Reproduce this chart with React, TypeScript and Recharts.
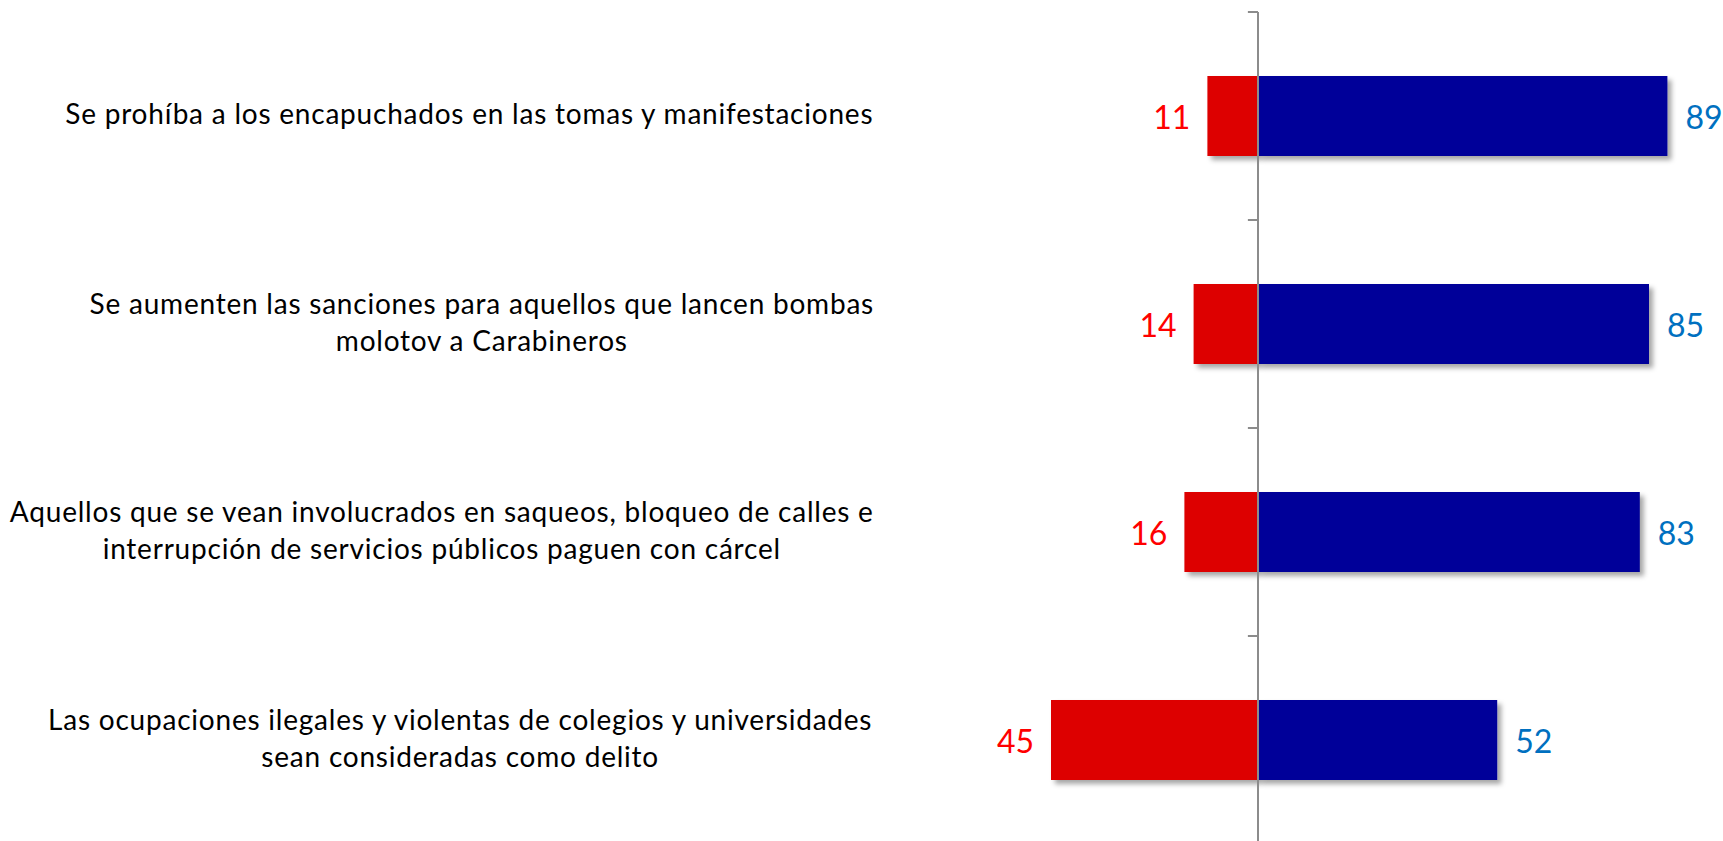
import React from "react";
import { BarChart, Bar, XAxis, YAxis, ReferenceLine, LabelList } from "recharts";

// ---- data ----
const categories: string[] = [
  "Se prohíba a los encapuchados en las tomas y manifestaciones",
  "Se aumenten las sanciones para aquellos que lancen bombas\nmolotov a Carabineros",
  "Aquellos que se vean involucrados en saqueos, bloqueo de calles e\ninterrupción de servicios públicos paguen con cárcel",
  "Las ocupaciones ilegales y violentas de colegios y universidades\nsean consideradas como delito",
];
const desacuerdo: number[] = [11, 14, 16, 45];
const deAcuerdo: number[] = [89, 85, 83, 52];

const data = categories.map((c, i) => ({
  cat: c,
  no: -desacuerdo[i],
  si: deAcuerdo[i],
}));

// ---- style ----
const FONT = "Lato, 'Open Sans', sans-serif";
const CAT_SIZE = 28;
const CAT_SPACING = 0.78;
const VAL_SIZE = 32;
const LINE_H = 37;
const RED_BAR = "#DD0000";
const BLUE_BAR = "#000099";
const RED_TXT = "#FF0000";
const BLUE_TXT = "#0070C0";
const AXIS = "#8C8C8C";

let ctx: CanvasRenderingContext2D | null = null;
const measure = (s: string) => {
  if (!ctx) {
    const c = document.createElement("canvas");
    ctx = c.getContext("2d");
  }
  if (!ctx) return s.length * CAT_SIZE * 0.5;
  ctx.font = `${CAT_SIZE}px Lato`;
  return ctx.measureText(s).width + CAT_SPACING * s.length;
};

const CatTick = (props: any) => {
  const { x, y, payload } = props;
  const lines: string[] = String(payload.value).split("\n");
  const maxW = Math.max(...lines.map(measure));
  const right = x - 106;
  const cx = Math.max(right - maxW / 2, maxW / 2 + 8);
  const startY = y - 3 - ((lines.length - 1) * LINE_H) / 2;
  return (
    <g>
      {lines.map((l, i) => (
        <text
          key={i}
          x={cx}
          y={startY + i * LINE_H}
          textAnchor="middle"
          dominantBaseline="central"
          fontFamily={FONT}
          fontSize={CAT_SIZE}
          letterSpacing={CAT_SPACING}
          fill="#000"
        >
          {l}
        </text>
      ))}
    </g>
  );
};

const ShadowRect = (props: any) => {
  const { x, y, width, height, fill } = props;
  const rx = Math.min(x, x + width);
  const w = Math.abs(width);
  return <rect x={rx} y={y} width={w} height={height} fill={fill} filter="url(#barShadow)" />;
};

const RedLabel = (props: any) => {
  const { x, y, width, height, value } = props;
  const left = Math.min(x, x + width);
  return (
    <text
      x={left - 17}
      y={y + height / 2}
      textAnchor="end"
      dominantBaseline="central"
      fontFamily={FONT}
      fontSize={VAL_SIZE}
      fill={RED_TXT}
    >
      {Math.abs(value)}
    </text>
  );
};

const BlueLabel = (props: any) => {
  const { x, y, width, height, value } = props;
  const right = Math.max(x, x + width);
  return (
    <text
      x={right + 18}
      y={y + height / 2}
      textAnchor="start"
      dominantBaseline="central"
      fontFamily={FONT}
      fontSize={VAL_SIZE}
      fill={BLUE_TXT}
    >
      {Math.abs(value)}
    </text>
  );
};

export default function App() {
  return (
    <div
      style={{
        position: "absolute",
        left: 0,
        top: 0,
        width: 1723,
        height: 841,
        overflow: "hidden",
        background: "#fff",
      }}
    >
      <svg width={0} height={0} style={{ position: "absolute" }}>
        <defs>
          <filter id="barShadow" x="-10%" y="-20%" width="130%" height="160%">
            <feDropShadow dx={4} dy={4} stdDeviation={2.5} floodColor="#000" floodOpacity={0.35} />
          </filter>
        </defs>
      </svg>
      <BarChart
        width={1723}
        height={850}
        data={data}
        layout="vertical"
        stackOffset="sign"
        barSize={80}
        margin={{ top: 12, right: 5, bottom: 6, left: 0 }}
      >
        <XAxis type="number" domain={[-60, 100]} hide allowDataOverflow />
        <YAxis
          type="category"
          dataKey="cat"
          width={982}
          axisLine={false}
          tickLine={false}
          tickSize={0}
          tick={<CatTick />}
          interval={0}
        />
        <Bar dataKey="no" stackId="a" fill={RED_BAR} shape={<ShadowRect />} isAnimationActive={false}>
          <LabelList dataKey="no" content={<RedLabel />} />
        </Bar>
        <Bar dataKey="si" stackId="a" fill={BLUE_BAR} shape={<ShadowRect />} isAnimationActive={false}>
          <LabelList dataKey="si" content={<BlueLabel />} />
        </Bar>
        <ReferenceLine x={0} stroke={AXIS} strokeWidth={2} />
        {categories.map((c) => (
          <ReferenceLine
            key={c}
            segment={[
              { x: -2.2, y: c },
              { x: 0, y: c },
            ]}
            position="start"
            stroke={AXIS}
            strokeWidth={2}
          />
        ))}
      </BarChart>
    </div>
  );
}
